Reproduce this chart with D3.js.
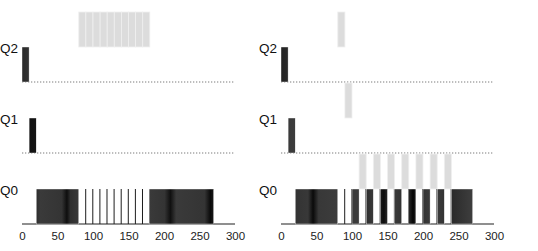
<!DOCTYPE html>
<html>
<head>
<meta charset="utf-8">
<script src="https://cdn.jsdelivr.net/npm/d3@7"></script>
<style>
  body { margin: 0; background: #fff; }
  text { font-family: "Liberation Sans", Arial, sans-serif; }
</style>
</head>
<body>
<div id="chart"></div>
<script>
// queues, top to bottom
const queues = ["Q2", "Q1", "Q0"]
const tickValues = [0, 50, 100, 150, 200, 250, 300]

// left: long-running job (dark) and gaming job (gray)
const leftLong = [
  {q: "Q2", start: 0, end: 10}, {q: "Q1", start: 10, end: 20}, {q: "Q0", start: 20, end: 80},
  {q: "Q0", start: 89, end: 90}, {q: "Q0", start: 99, end: 100}, {q: "Q0", start: 109, end: 110},
  {q: "Q0", start: 119, end: 120}, {q: "Q0", start: 129, end: 130}, {q: "Q0", start: 139, end: 140},
  {q: "Q0", start: 149, end: 150}, {q: "Q0", start: 159, end: 160}, {q: "Q0", start: 169, end: 170},
  {q: "Q0", start: 179, end: 270}
]
const leftGame = [
  {q: "Q2", start: 80, end: 90}, {q: "Q2", start: 90, end: 100}, {q: "Q2", start: 100, end: 110},
  {q: "Q2", start: 110, end: 120}, {q: "Q2", start: 120, end: 130}, {q: "Q2", start: 130, end: 140},
  {q: "Q2", start: 140, end: 150}, {q: "Q2", start: 150, end: 160}, {q: "Q2", start: 160, end: 170},
  {q: "Q2", start: 170, end: 180}
]

// right: same jobs, with gaming tolerance
const rightLong = [
  {q: "Q2", start: 0, end: 10}, {q: "Q1", start: 10, end: 20}, {q: "Q0", start: 20, end: 80},
  {q: "Q0", start: 89, end: 90}, {q: "Q0", start: 99, end: 100}, {q: "Q0", start: 100, end: 110},
  {q: "Q0", start: 119, end: 120}, {q: "Q0", start: 120, end: 130}, {q: "Q0", start: 139, end: 140},
  {q: "Q0", start: 140, end: 150}, {q: "Q0", start: 159, end: 160}, {q: "Q0", start: 160, end: 170},
  {q: "Q0", start: 179, end: 180}, {q: "Q0", start: 180, end: 190}, {q: "Q0", start: 199, end: 200},
  {q: "Q0", start: 200, end: 210}, {q: "Q0", start: 219, end: 220}, {q: "Q0", start: 220, end: 230},
  {q: "Q0", start: 239, end: 240}, {q: "Q0", start: 240, end: 270}
]
const rightGame = [
  {q: "Q2", start: 80, end: 90}, {q: "Q1", start: 90, end: 100},
  {q: "Q0", start: 110, end: 120}, {q: "Q0", start: 130, end: 140}, {q: "Q0", start: 150, end: 160},
  {q: "Q0", start: 170, end: 180}, {q: "Q0", start: 190, end: 200}, {q: "Q0", start: 210, end: 220},
  {q: "Q0", start: 230, end: 240}
]

const width = 538, height = 251
const barH = 35

// shading of the dark slices (style only), keyed by panel and start
const shading = {
  "L0":   [[0, "#2a2a2a"], [1, "#333"]],
  "L10":  [[0, "#111"], [1, "#151515"]],
  "L20":  [[0, "#2c2c2c"], [0.1, "#3a3a3a"], [0.6, "#343434"], [0.72, "#0e0e0e"], [0.8, "#2e2e2e"], [1, "#383838"]],
  "L179": [[0, "#3a3a3a"], [0.24, "#343434"], [0.33, "#101010"], [0.42, "#3a3a3a"], [0.86, "#343434"], [0.95, "#0a0a0a"], [1, "#1a1a1a"]],
  "R0":   [[0, "#222"], [1, "#2a2a2a"]],
  "R10":  [[0, "#3a3a3a"], [1, "#3c3c3c"]],
  "R20":  [[0, "#333"], [0.3, "#383838"], [0.42, "#0a0a0a"], [0.55, "#383838"], [1, "#3c3c3c"]],
  "R100": [[0, "#3a3a3a"], [1, "#3a3a3a"]],
  "R120": [[0, "#2e2e2e"], [1, "#3a3a3a"]],
  "R140": [[0, "#1a1a1a"], [0.5, "#0c0c0c"], [1, "#2a2a2a"]],
  "R160": [[0, "#3a3a3a"], [1, "#333"]],
  "R180": [[0, "#2a2a2a"], [0.6, "#050505"], [1, "#222"]],
  "R200": [[0, "#333"], [1, "#3a3a3a"]],
  "R220": [[0, "#3a3a3a"], [1, "#333"]],
  "R240": [[0, "#2a2a2a"], [1, "#3e3e3e"]]
}

const svg = d3.select("#chart").append("svg")
  .attr("width", width)
  .attr("height", height)

const defs = svg.append("defs")
Object.entries(shading).forEach(([key, stops]) => {
  const g = defs.append("linearGradient").attr("id", "g" + key)
    .attr("x1", "0%").attr("x2", "100%").attr("y1", "0%").attr("y2", "0%")
  stops.forEach(s => g.append("stop").attr("offset", s[0]).attr("stop-color", s[1]))
})

const y = d3.scalePoint().domain(queues).range([82, 224])

function drawPanel(x0, key, longJob, gameJob) {
  const x = d3.scaleLinear().domain([0, 300]).range([x0, x0 + 213])
  const g = svg.append("g")

  // baselines
  g.selectAll("line.base")
    .data(queues)
    .enter().append("line")
    .attr("x1", x(0)).attr("x2", d => d === "Q0" ? x(300) : x(298))
    .attr("y1", d => y(d)).attr("y2", d => y(d))
    .attr("stroke", d => d === "Q0" ? "#6a6a6a" : "#a8a8a8")
    .attr("stroke-width", d => d === "Q0" ? 1.6 : 1.3)
    .attr("stroke-dasharray", d => d === "Q0" ? null : "1.3,1.7")

  // gaming job, one level up
  g.selectAll("rect.game")
    .data(gameJob)
    .enter().append("rect")
    .attr("x", d => x(d.start))
    .attr("y", d => y(d.q) - 2 * barH)
    .attr("width", d => x(d.end) - x(d.start))
    .attr("height", barH)
    .attr("fill", "#dcdcdc")
    .attr("stroke", "#efefef")
    .attr("stroke-width", 0.8)

  // long job
  g.selectAll("rect.long")
    .data(longJob)
    .enter().append("rect")
    .attr("x", d => x(d.start))
    .attr("y", d => y(d.q) - barH)
    .attr("width", d => Math.max(1, x(d.end) - x(d.start)))
    .attr("height", barH)
    .attr("fill", d => shading[key + d.start] ? `url(#g${key}${d.start})` : "#1e1e1e")
    .attr("stroke", d => d.end - d.start > 2 ? "#fff" : "none")
    .attr("stroke-width", 0.4)

  // queue labels
  g.selectAll("text.q")
    .data(queues)
    .enter().append("text")
    .attr("x", x(0) - 4)
    .attr("y", d => y(d) - barH + 5.5)
    .attr("text-anchor", "end")
    .attr("font-size", 13.5)
    .attr("fill", "#111")
    .text(d => d)

  // axis
  const axis = g.append("g")
    .attr("transform", `translate(0,${y("Q0")})`)
    .call(d3.axisBottom(x).tickValues(tickValues).tickSize(0).tickPadding(8))
  axis.select(".domain").remove()
  axis.selectAll("text")
    .attr("font-size", 11.5)
    .attr("font-family", "Liberation Sans, Arial, sans-serif")
    .attr("fill", "#222")
}

drawPanel(22, "L", leftLong, leftGame)
drawPanel(281, "R", rightLong, rightGame)
</script>
</body>
</html>
